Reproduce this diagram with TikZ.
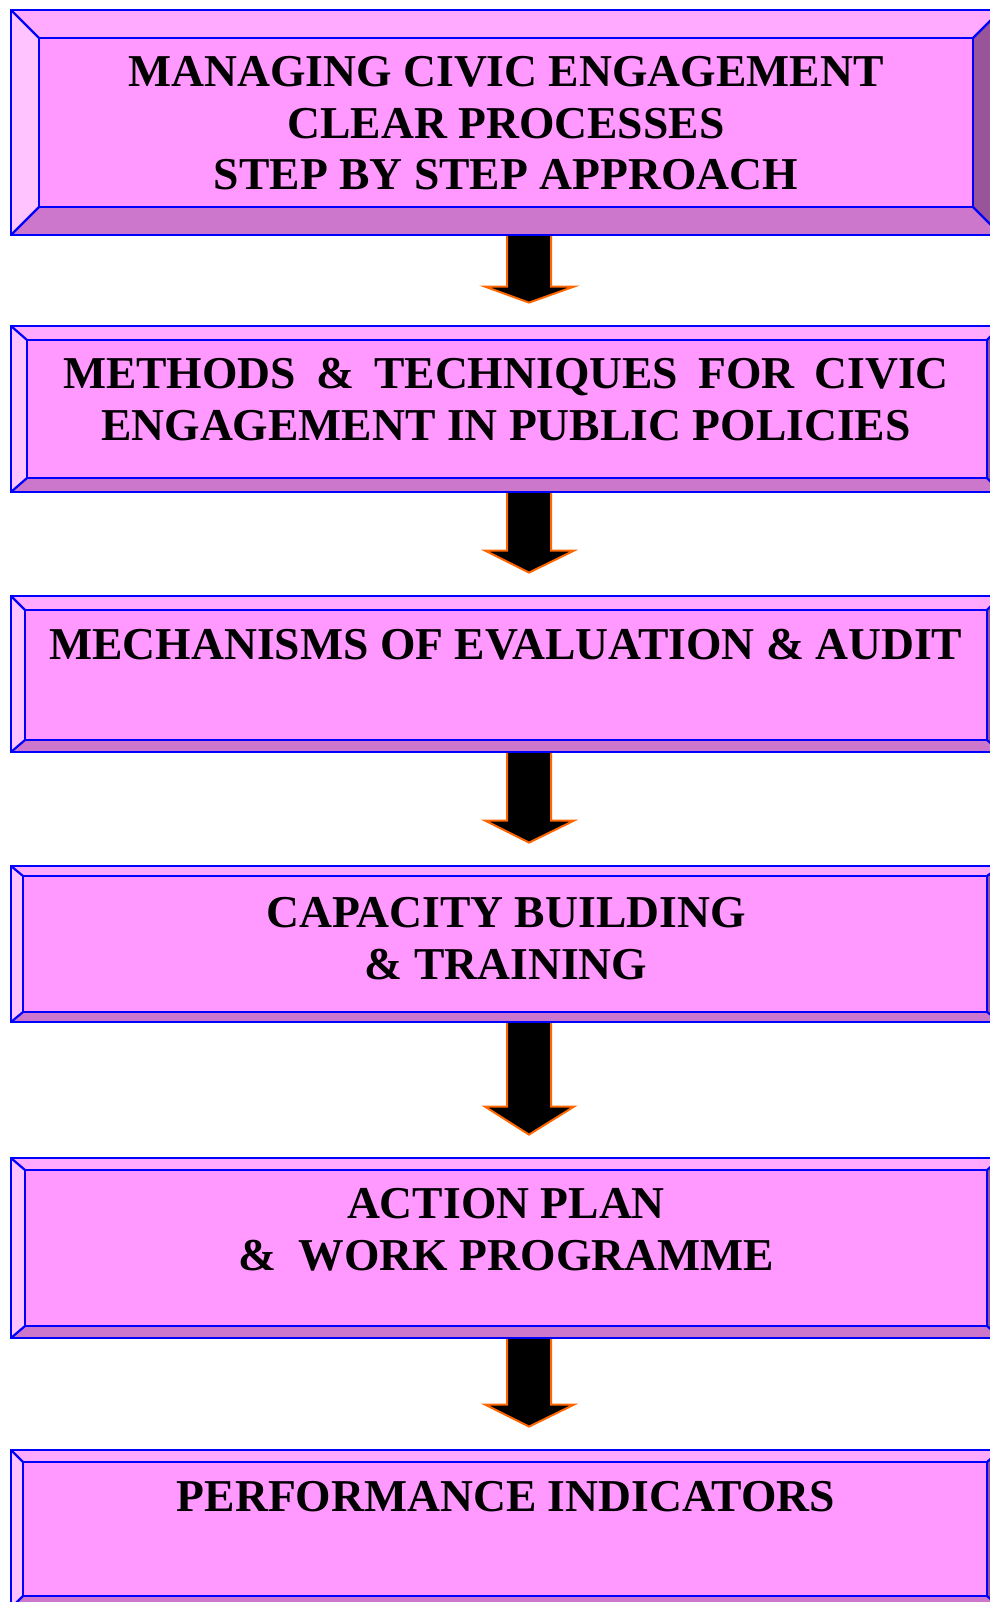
\documentclass[tikz,border=0pt]{standalone}
\usepackage{fontspec}
\setmainfont{Liberation Serif}
\usetikzlibrary{backgrounds,calc,fit}
\definecolor{bevtop}{HTML}{FFAAFF}
\definecolor{bevleft}{HTML}{FFC4FF}
\definecolor{bevface}{HTML}{FF99FF}
\definecolor{bevbottom}{HTML}{CC77CC}
\definecolor{bevright}{HTML}{995599}
\definecolor{arrowedge}{HTML}{FF6600}
\tikzset{
	edge/.style={line width=1.1pt, blue},
	boxtext/.style={anchor=north, inner sep=0pt, align=center,
		font=\fontsize{22.8pt}{25.75pt}\selectfont\bfseries},
	blockarrow/.style={fill=black, draw=arrowedge, line width=1pt, line join=miter},
}
% bevelled box: name, outer corners, inner corners
\newcommand{\bevelbox}[5]{%
	\coordinate (#1-tl) at (#2);
	\coordinate (#1-br) at (#3);
	\coordinate (#1-itl) at (#4);
	\coordinate (#1-ibr) at (#5);
	\fill[bevtop] (#1-tl) -- (#1-tl -| #1-br) -- (#1-itl -| #1-ibr) -- (#1-itl) -- cycle;
	\fill[bevleft] (#1-tl) -- (#1-itl) -- (#1-itl |- #1-ibr) -- (#1-tl |- #1-br) -- cycle;
	\fill[bevbottom] (#1-tl |- #1-br) -- (#1-itl |- #1-ibr) -- (#1-ibr) -- (#1-br) -- cycle;
	\fill[bevright] (#1-br) -- (#1-ibr) -- (#1-itl -| #1-ibr) -- (#1-tl -| #1-br) -- cycle;
	\fill[bevface] (#1-itl) rectangle (#1-ibr);
	\draw[edge] (#1-tl) rectangle (#1-br) (#1-itl) rectangle (#1-ibr);
	\draw[edge] (#1-tl) -- (#1-itl) (#1-tl -| #1-br) -- (#1-itl -| #1-ibr)
		(#1-tl |- #1-br) -- (#1-itl |- #1-ibr) (#1-br) -- (#1-ibr);
	\node[fit=(#1-tl)(#1-br), inner sep=0pt] (#1) {};
}
% block arrow: from box, to box, head length
\newcommand{\flowarrow}[3]{%
	\coordinate (#1-top) at ($(#1.south -| ax)+(0,-4)$);
	\coordinate (#1-tip) at ($(#2.north -| ax)+(0,-23)$);
	\filldraw[blockarrow] ($(#1-top)+(-22,0)$) -- ($(#1-tip)+(-22,-#3)$)
		-- ($(#1-tip)+(-44,-#3)$) -- (#1-tip) -- ($(#1-tip)+(45,-#3)$)
		-- ($(#1-tip)+(22,-#3)$) -- ($(#1-top)+(22,0)$);
}

\begin{document}
\begin{tikzpicture}[x=0.5pt, y=-0.5pt]
	\path[use as bounding box, clip] (0,0) rectangle (990,1602);
	\coordinate (ax) at (529,0);

	\bevelbox{b1}{11,10}{1001,235}{39,38}{973,207}
	\bevelbox{b2}{11,326}{1001,492}{27,340}{987,478}
	\bevelbox{b3}{11,596}{1001,752}{25,610}{987,740}
	\bevelbox{b4}{11,866}{1001,1022}{23,876}{987,1012}
	\bevelbox{b5}{11,1158}{1001,1338}{25,1170}{987,1326}
	\bevelbox{b6}{11,1450}{1001,1608}{23,1462}{987,1596}

	\node[boxtext] (t1) at (506,56) {MANAGING CIVIC ENGAGEMENT\\CLEAR PROCESSES\\STEP BY STEP APPROACH};
	\node[boxtext] (t2) at (506,358) {\makebox[443pt][s]{METHODS \& TECHNIQUES FOR CIVIC}\\ENGAGEMENT IN PUBLIC POLICIES};
	\node[boxtext] (t3) at (506,629) {MECHANISMS OF EVALUATION \& AUDIT};
	\node[boxtext] (t4) at (506,897) {CAPACITY BUILDING\\\& TRAINING};
	\node[boxtext] (t5) at (506,1188) {ACTION PLAN\\\&~ WORK PROGRAMME};
	\node[boxtext] (t6) at (506,1481) {PERFORMANCE INDICATORS};

	\begin{scope}[on background layer]
		\flowarrow{b1}{b2}{16}
		\flowarrow{b2}{b3}{22}
		\flowarrow{b3}{b4}{22}
		\flowarrow{b4}{b5}{28}
		\flowarrow{b5}{b6}{22}
	\end{scope}
\end{tikzpicture}
\end{document}
